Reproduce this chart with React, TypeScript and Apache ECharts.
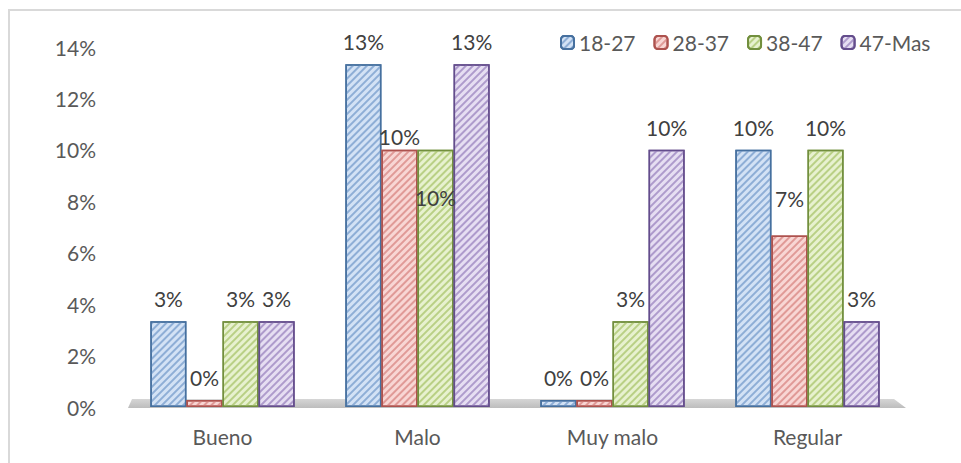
import React, { useEffect, useRef } from "react";
import * as echarts from "echarts";

const categories = ["Bueno", "Malo", "Muy malo", "Regular"];
const seriesNames = ["18-27", "28-37", "38-47", "47-Mas"];
const values18_27 = [3.33, 13.33, 0, 10];
const values28_37 = [0, 10, 0, 6.67];
const values38_47 = [3.33, 10, 3.33, 10];
const values47_Mas = [3.33, 13.33, 10, 3.33];
const yTicks = { min: 0, max: 14, interval: 2 };

// fill, hatch line, outline
const palette = [
  { fill: "#d3e2f5", hatch: "#8eaed6", border: "#46709f" },
  { fill: "#f8d6d4", hatch: "#e09a97", border: "#ad524e" },
  { fill: "#e7f1cf", hatch: "#b9d085", border: "#728f3e" },
  { fill: "#e6def2", hatch: "#ae9bcc", border: "#644d8c" },
];

// label shifts (px) for a few points whose data labels sit off the usual spot
const labelShift: Record<string, number> = {
  "28-37|Malo": 9,
  "38-47|Malo": 70,
  "28-37|Regular": -14,
};

const FONT = "Lato, 'Liberation Sans', sans-serif";
const TEXT = "#595959";

export default function App() {
  const ref = useRef<HTMLDivElement>(null);

  useEffect(() => {
    if (!ref.current) return;
    const chart = echarts.init(ref.current, null, { renderer: "svg" });
    const allValues = [values18_27, values28_37, values38_47, values47_Mas];

    const series = allValues.map((vals, si) => {
      const c = palette[si];
      return {
        name: seriesNames[si],
        type: "bar",
        barGap: "0%",
        barCategoryGap: "26%",
        barMinHeight: 7,
        z: 3,
        itemStyle: {
          color: c.fill,
          borderColor: c.border,
          borderWidth: 1.5,
          decal: {
            symbol: "rect",
            symbolSize: 1,
            dashArrayX: [[1, 0]],
            dashArrayY: [1.2, 2.8],
            rotation: -Math.PI / 4,
            color: c.hatch,
          },
        },
        label: {
          show: true,
          position: "top",
          distance: 12,
          color: "#404040",
          fontFamily: FONT,
          fontSize: 21,
          formatter: (p: any) => Math.round(p.value) + "%",
        },
        data: vals.map((v, ci) => {
          const key = seriesNames[si] + "|" + categories[ci];
          const dy = labelShift[key];
          return dy === undefined ? v : { value: v, label: { offset: [0, dy] } };
        }),
      };
    });

    const option: any = {
      animation: false,
      backgroundColor: "#ffffff",
      textStyle: { fontFamily: FONT },
      legend: {
        data: seriesNames,
        left: 555,
        top: 27,
        itemWidth: 13,
        itemHeight: 13,
        itemGap: 18,
        textStyle: { color: TEXT, fontSize: 21, fontFamily: FONT },
      },
      grid: { left: 125, right: 56, top: 47, bottom: 56 },
      xAxis: {
        type: "category",
        data: categories,
        axisLine: { show: false },
        axisTick: { show: false },
        axisLabel: { color: TEXT, fontSize: 21, fontFamily: FONT, margin: 19 },
      },
      yAxis: {
        type: "value",
        min: yTicks.min,
        max: yTicks.max,
        interval: yTicks.interval,
        splitLine: { show: false },
        axisLine: { show: false },
        axisTick: { show: false },
        axisLabel: {
          color: TEXT,
          fontSize: 21,
          fontFamily: FONT,
          margin: 29,
          formatter: "{value}%",
        },
      },
      series,
    };
    chart.setOption(option);

    // floor slab under the columns and the outer frame
    const [x0, y0] = chart.convertToPixel({ gridIndex: 0 } as any, [0, 0]) as number[];
    const left = x0 - 195 / 2 + 3;
    const right = left + 4 * 195 - 2;
    chart.setOption({
      graphic: [
        {
          type: "polygon",
          z: 1,
          shape: {
            points: [
              [left + 4, y0 - 8],
              [right - 12, y0 - 8],
              [right, y0 + 1],
              [left, y0 + 1],
            ],
          },
          style: {
            fill: new echarts.graphic.LinearGradient(0, 0, 0, 1, [
              { offset: 0, color: "#d6d6d6" },
              { offset: 1, color: "#bdbdbd" },
            ]),
          },
        },
        {
          type: "rect",
          z: 0,
          shape: { x: 9, y: 10, width: 1000, height: 500 },
          style: { fill: "none", stroke: "#d9d9d9", lineWidth: 2 },
        },
      ],
    });

    return () => chart.dispose();
  }, []);

  return (
    <div
      ref={ref}
      style={{ position: "absolute", left: 0, top: 0, width: 961, height: 463 }}
    />
  );
}
